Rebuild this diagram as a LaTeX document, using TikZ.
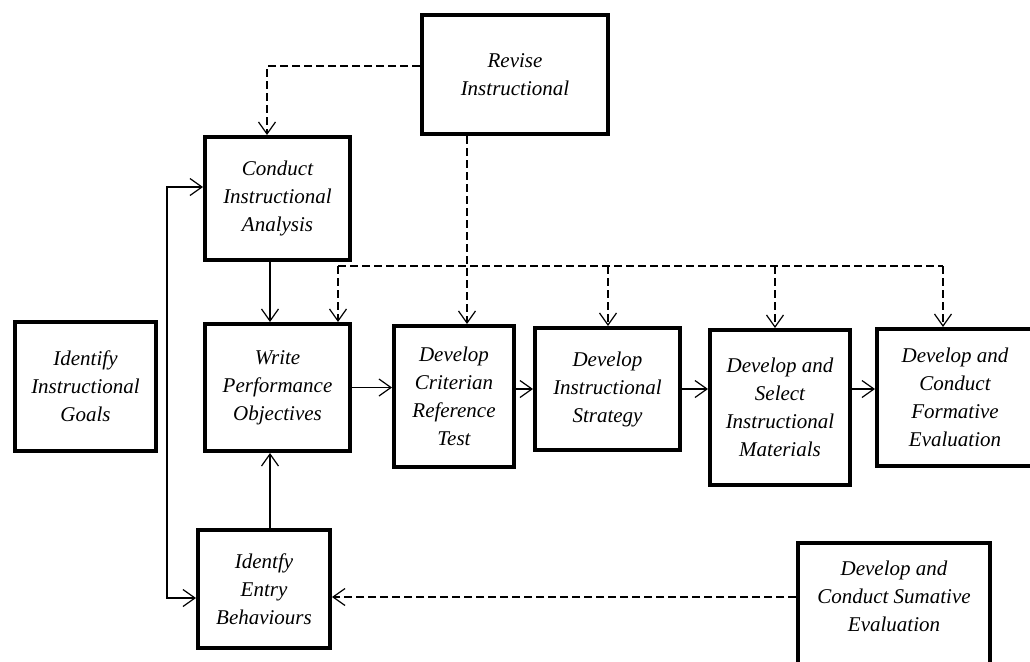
\documentclass[tikz,border=0pt]{standalone}
\usepackage{fontspec}
\setmainfont{Liberation Serif}
\usepackage{tikz}
\usetikzlibrary{positioning, arrows.meta, calc}

\begin{document}
\begin{tikzpicture}[
    x=0.5pt, y=-0.5pt,
    >={Straight Barb[length=6pt,width=8.5pt]},
    stage/.style={rectangle, draw=black, line width=2pt, align=center, inner sep=2pt, font=\itshape\fontsize{10.5}{14}\selectfont},
    link/.style={line width=0.6pt},
    dashlink/.style={line width=0.6pt, dash pattern=on 4pt off 2pt}
]

\useasboundingbox (0,0) rectangle (1030,661);
\fill[white] (0,0) rectangle (1030,661);
\clip (0,0) rectangle (1030,661);

% Nodes
\node[stage, minimum width=93pt, minimum height=59.5pt] (revise) at (515,74.5) {Revise\\Instructional};
\node[stage, minimum width=72.5pt, minimum height=61.5pt] (conduct) at (277.5,198.5) {Conduct\\Instructional\\Analysis};
\node[stage, minimum width=72.5pt, minimum height=63.5pt] (write) [below=30pt of conduct] {Write\\Performance\\Objectives};
\node[stage, minimum width=70.5pt, minimum height=64.5pt] (goals) at (85.5,386.5) {Identify\\Instructional\\Goals};
\node[stage, minimum width=60pt, minimum height=70.5pt] (criterian) at (454,396.5) {Develop\\Criterian\\Reference\\Test};
\node[stage, minimum width=72.5pt, minimum height=61pt] (strategy) at (607.5,389) {Develop\\Instructional\\Strategy};
\node[stage, minimum width=70pt, minimum height=77.5pt] (materials) at (780,407.5) {Develop and\\Select\\Instructional\\Materials};
\node[stage, minimum width=78pt, minimum height=68.5pt] (formative) at (955,397.5) {Develop and\\Conduct\\Formative\\Evaluation};
\node[stage, minimum width=66pt, minimum height=59pt] (entry) at (264,589) {Identfy\\Entry\\Behaviours};
\node[stage, minimum width=96pt, minimum height=67.5pt] (sumative) at (894,610) {Develop and\\Conduct Sumative\\Evaluation\\ \mbox{}};

% Revision feedback (dashed)
\draw[dashlink, ->] ([yshift=4.25pt]revise.west) -| ([xshift=-5.25pt]conduct.north);
\coordinate (revDrop) at ([xshift=-24pt]revise.south);
\draw[dashlink, ->] (revDrop) -- (revDrop |- criterian.north);

\coordinate (busA) at (338,266);
\coordinate (busB) at (608,266);
\coordinate (busC) at (775,266);
\coordinate (busD) at (943,266);
\draw[dashlink] (busA) -- (busD);
\draw[dashlink, ->] (busA) -- (busA |- write.north);
\foreach \b/\t in {busB/strategy, busC/materials, busD/formative}
    \draw[dashlink, ->] (\b) -- (\b |- \t.north);

% Main flow
\draw[link, ->] ([xshift=-3.75pt]conduct.south) -- ([xshift=-3.75pt]write.north);
\coordinate (entUp) at ([xshift=3pt]entry.north);
\draw[link, ->] (entUp) -- (entUp |- write.south);
\draw[link, ->] (write.east) -- (write.east -| criterian.west);
\draw[link, ->] (strategy.west -| criterian.east) -- (strategy.west);
\draw[link, ->] (strategy.east) -- (strategy.east -| materials.west);
\draw[link, ->] (strategy.east -| materials.east) -- (strategy.east -| formative.west);

% Left loop
\coordinate (loopT) at (167,187);
\coordinate (loopB) at (167,598);
\draw[link, <->] ([yshift=5.75pt]conduct.west) -- (loopT) -- (loopB) -- ([yshift=-4.5pt]entry.west);

% Sumative feedback
\coordinate (sumIn) at ([yshift=-4pt]entry.east);
\draw[dashlink, ->] (sumIn -| sumative.west) -- (sumIn);

\end{tikzpicture}
\end{document}
